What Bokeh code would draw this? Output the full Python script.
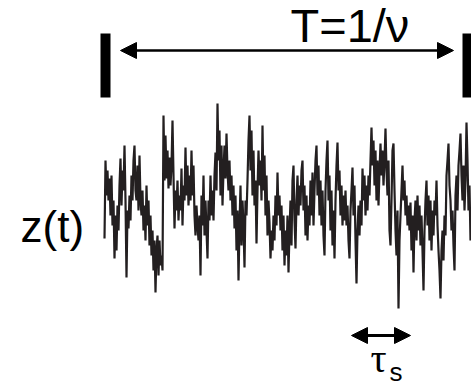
from bokeh.plotting import figure
from bokeh.models import Range1d, Arrow, NormalHead, ColumnDataSource
from bokeh.core.properties import value
from bokeh.embed import file_html
from bokeh.resources import INLINE

# signal z(t), one sample per time step (arbitrary units)
z = [
    -33, 45, 10, 35, 5, 27, -10, 30, -20, 5,
    -53, -10, -45, 0, -25,
    20, 47, 0, 35,
    15, 60, 5, -72,
    -5, -23, 10, -15,
    30, 5, 45, 60, 15,
    5, 40, -5, 50, 5,
    -10, 15, -25, 0, -35,
    20, -20, 5, -40, -10,
    -50, -25, -65, -35, -87,
    -45, -30, -70, -35, -60,
    -50, -65, 90, 25,
    70, 27, 55,
    17, 48, 20, 40,
    85, 30,
    -23, 15,
    -5, 25, -15, 10, -5,
    37, -20, 20, 5,
    58, 10,
    40, 0, 30, 5,
    55, 10, 40,
    -10, -30, 0, -20, -35,
    -10, -70, 10,
    -20, 30, -30, 5,
    -25, -53, 5,
    -15, 30, -10, 15, -15,
    30, 53, 15,
    102, 45,
    75, 10, 60, 0, 35,
    60, 27,
    72, 35,
    15, 45, 5,
    30, -10, 20, -23, 10,
    -45, -5, -75, -20,
    20, -40, 5, -20, -62,
    5, -10, 25,
    65, 90, 35,
    75, 10, 55, 0,
    25, -38, 15,
    55, 20, 45, 5, 80,
    15, 50, -10, 30, -30, 5,
    -17, -53, -25, -45, -10,
    -35, 10, -20, 33, -10, 10, -25,
    0, -45, -10, -60, -25,
    -50, -10, -67, -25,
    5, -40, 25, 40, -15,
    -43, 5,
    30, -10, 20, 0, 35, 45,
    -5, 20, -30, 10, -35, 0, -20,
    25, -10, 33, -20, 15,
    45, 60, 10, 40, -10,
    25, -20, 15, -30, -50,
    15, 45, 65, 5,
    30, -25, 15, -40, -5, -53,
    5, 40, 63, 15,
    35, -10, 20, -20, 10, -15, 15, -20, 0,
    -35, -53, -5,
    15, 38, -10, 20,
    -35, -78, -25,
    0, -30, 5, -20,
    37, 5, 30, -10,
    20, -5, 30, 10,
    45, 78, 40, 65, 20,
    55, 5, 45, 0, 35,
    62, 30,
    55, 20, 45,
    77, 35,
    10, 45, -25, -40, 5,
    55, 62, 15,
    -25, -50, -5, -103, -35,
    -10, 15, 40, 5, 25,
    -10, 10, -20, 0, -25,
    3, -45,
    -10, -67, -15,
    5, -35, 10, -25, 0, -40,
    -10, -45, -85, -25,
    5, 25, -20,
    10, -35, 5, -45, -5, -30,
    5, -10, 25, -20,
    -45, -65, -93, -45,
    -25, -55, -10, -30,
    30, 45, 62, 20,
    5, -25, -5, -40, -65,
    10, 30, -5, 40,
    55, 72, 30,
    5, 40, -5, 25,
    83, 45,
    -5, 20, -35, -10,
]
t = list(range(len(z)))

# annotation positions (time / amplitude units)
period_start, period_end = 16, 349      # T = 1/nu arrow
period_level = 155
bar_left = [-4, 358]
bar_right = [6, 367]
bar_bottom, bar_top = 108, 172
tau_start, tau_end, tau_level = 247, 306, -130

p = figure(width=471, height=390,
           x_range=Range1d(-104, 367), y_range=Range1d(-185, 205),
           output_backend="svg", toolbar_location=None,
           x_axis_type=None, y_axis_type=None, min_border=0)
p.grid.visible = False
p.outline_line_color = None
p.background_fill_color = "white"
p.border_fill_color = "white"

src = ColumnDataSource(dict(t=t, z=z))
p.line("t", "z", source=src, line_color="#231f20", line_width=2.2)

# period bars
p.quad(left=bar_left, right=bar_right, bottom=bar_bottom, top=bar_top,
       fill_color="black", line_color=None)

# T arrow
p.add_layout(Arrow(start=NormalHead(size=16, fill_color="black", line_color="black"),
                   end=NormalHead(size=16, fill_color="black", line_color="black"),
                   x_start=period_start, y_start=period_level,
                   x_end=period_end, y_end=period_level,
                   line_color="black", line_width=2.5))

# tau_s arrow
p.add_layout(Arrow(start=NormalHead(size=16, fill_color="black", line_color="black"),
                   end=NormalHead(size=16, fill_color="black", line_color="black"),
                   x_start=tau_start, y_start=tau_level,
                   x_end=tau_end, y_end=tau_level,
                   line_color="black", line_width=3))

p.text(x=[186], y=[180], text=["T=1/\u03bd"], text_font=value("Liberation Sans"),
       text_font_size="47px", text_color="black", text_baseline="alphabetic")
p.text(x=[-84], y=[-21], text=["z(t)"], text_font=value("Liberation Sans"),
       text_font_size="44px", text_color="black", text_baseline="alphabetic")
p.text(x=[266], y=[-153], text=["\u03c4"], text_font=value("Liberation Serif"),
       text_font_size="40px", text_color="black", text_baseline="alphabetic")
p.text(x=[285], y=[-166], text=["s"], text_font=value("Liberation Sans"),
       text_font_size="26px", text_color="black", text_baseline="alphabetic")

open("out.html", "w").write(file_html(p, INLINE))
